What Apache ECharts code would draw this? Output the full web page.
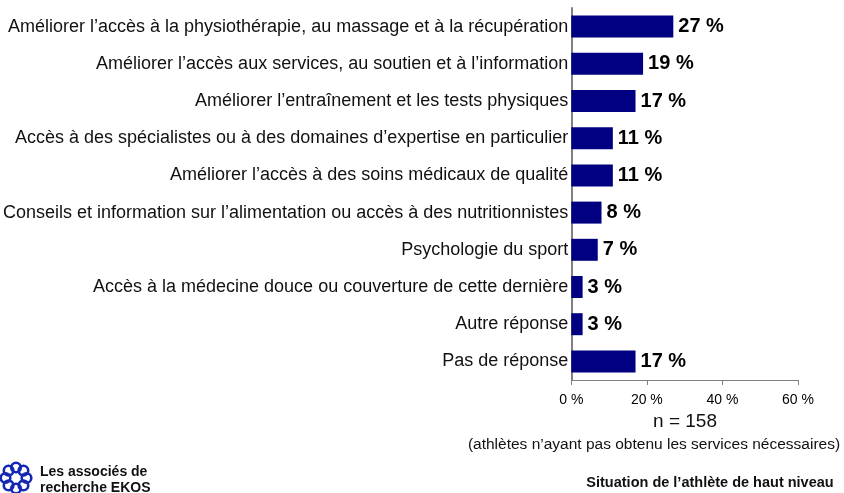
<!DOCTYPE html>
<html>
<head>
<meta charset="utf-8">
<script src="https://cdn.jsdelivr.net/npm/echarts@6/dist/echarts.min.js"></script>
<style>
  html, body { margin: 0; padding: 0; background: #fff; }
  #container { width: 844px; height: 493px; }
</style>
</head>
<body>
<div id="container"></div>
<script>
// categories, top to bottom as in the picture
let categories = [
    "Améliorer l’accès à la physiothérapie, au massage et à la récupération",
    "Améliorer l’accès aux services, au soutien et à l’information",
    "Améliorer l’entraînement et les tests physiques",
    "Accès à des spécialistes ou à des domaines d’expertise en particulier",
    "Améliorer l’accès à des soins médicaux de qualité",
    "Conseils et information sur l’alimentation ou accès à des nutritionnistes",
    "Psychologie du sport",
    "Accès à la médecine douce ou couverture de cette dernière",
    "Autre réponse",
    "Pas de réponse"
];
let values = [27, 19, 17, 11, 11, 8, 7, 3, 3, 17];

let sans = "'Liberation Sans', Arial, sans-serif";

var dom = document.getElementById("container");
var myChart = echarts.init(dom);

// logo : petit anneau de boucles bleues
var logo = [];
for (var i = 0; i < 8; i++) {
    var a = i * Math.PI / 4;
    logo.push({
        type: 'circle',
        shape: { cx: 16 + 10.5 * Math.cos(a), cy: 478 + 10.5 * Math.sin(a), r: 4.8 },
        style: { fill: 'none', stroke: '#1428b4', lineWidth: 2.6 }
    });
}

let option = {
    animation: false,
    grid: { left: 571, right: 46, top: 8, bottom: 113, containLabel: false },
    xAxis: {
        type: 'value',
        min: 0, max: 60, interval: 20,
        axisLine: { show: true, lineStyle: { color: '#808080', width: 1 } },
        axisTick: { show: true, length: 5, lineStyle: { color: '#808080' } },
        splitLine: { show: false },
        axisLabel: {
            formatter: '{value} %', color: '#000',
            fontFamily: sans, fontSize: 14, margin: 13
        }
    },
    yAxis: {
        type: 'category',
        inverse: true,
        data: categories,
        axisLine: { show: true, lineStyle: { color: '#808080', width: 2 } },
        axisTick: { show: false },
        axisLabel: { color: '#111', fontFamily: sans, fontSize: 18, margin: 3 }
    },
    series: [{
        type: 'bar',
        data: values,
        barWidth: 22,
        itemStyle: { color: '#000080' },
        label: {
            show: true, position: 'right', distance: 5,
            formatter: '{c} %',
            color: '#000', fontWeight: 'bold', fontSize: 20,
            fontFamily: sans
        }
    }],
    graphic: logo.concat([
        { type: 'text', x: 685, y: 412, style: { text: 'n = 158', fill: '#111', font: "19px " + sans, textAlign: 'center' } },
        { type: 'text', x: 654, y: 437, style: { text: '(athlètes n’ayant pas obtenu les services nécessaires)', fill: '#111', font: "15.5px " + sans, textAlign: 'center' } },
        { type: 'text', x: 710, y: 475, style: { text: 'Situation de l’athlète de haut niveau', fill: '#111', font: "bold 14.5px " + sans, textAlign: 'center' } },
        { type: 'text', x: 40, y: 464, style: { text: 'Les associés de\nrecherche EKOS', fill: '#111', font: "bold 14px " + sans, lineHeight: 16 } }
    ])
};
myChart.setOption(option, true);
</script>
</body>
</html>
